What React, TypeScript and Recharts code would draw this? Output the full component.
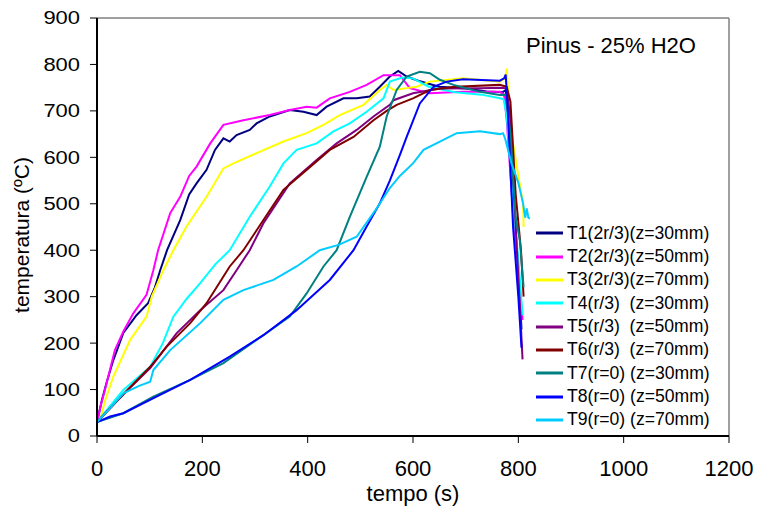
import { Label, Line, LineChart, ReferenceLine, XAxis, YAxis } from "recharts";

// time (s), temperature (ºC)
const t1 = [[0,30],[10,80],[18,114],[30,160],[50,222],[75,260],[97,286],[110,320],[120,357],[133,400],[158,465],[175,520],[189,544],[208,573],[224,616],[240,641],[252,634],[265,648],[290,659],[303,673],[328,688],[366,702],[392,698],[417,691],[436,709],[468,727],[493,727],[518,731],[537,752],[556,774],[572,786],[588,774],[610,765],[650,752],[700,748],[740,742],[770,740],[776,745],[780,700],[790,520],[800,360],[806,230]];
const t2 = [[0,30],[8,70],[15,99],[34,185],[50,225],[69,264],[94,304],[107,357],[116,400],[139,480],[158,515],[175,560],[189,580],[215,630],[240,670],[278,680],[328,691],[366,702],[398,709],[417,707],[442,727],[480,741],[512,756],[544,777],[575,777],[594,749],[632,738],[695,741],[765,741],[773,735],[778,680],[790,480],[800,360],[808,250]];
const t3 = [[0,30],[6,34],[15,75],[31,128],[63,207],[94,257],[104,300],[126,357],[145,400],[170,451],[208,515],[240,576],[259,587],[303,609],[354,634],[398,652],[430,670],[461,691],[506,713],[537,745],[550,756],[563,745],[588,749],[607,752],[632,763],[695,770],[765,763],[775,770],[778,791],[782,720],[790,630],[800,560],[809,500],[810,450]];
const t4 = [[0,30],[25,65],[50,99],[101,149],[125,200],[145,257],[170,295],[196,329],[225,370],[252,400],[290,472],[328,537],[354,587],[379,616],[417,630],[449,656],[480,673],[512,698],[544,727],[556,763],[580,772],[600,770],[630,752],[680,740],[730,735],[765,727],[772,725],[778,690],[790,500],[800,380],[808,260]];
const t5 = [[0,30],[50,90],[101,146],[151,221],[196,271],[240,314],[265,357],[290,400],[316,458],[366,544],[417,594],[455,630],[493,659],[525,688],[556,713],[563,723],[600,738],[650,748],[727,749],[770,750],[778,748],[785,680],[795,450],[802,300],[808,165]];
const t6 = [[0,30],[50,90],[101,149],[132,192],[177,243],[208,286],[252,365],[278,400],[316,465],[354,530],[398,573],[442,616],[487,644],[525,680],[550,700],[569,713],[600,727],[632,745],[680,752],[765,756],[778,752],[785,720],[795,520],[805,400],[810,300]];
const t7 = [[0,30],[50,49],[107,85],[177,121],[240,157],[303,207],[366,257],[398,307],[430,365],[455,400],[480,472],[512,558],[537,623],[550,688],[569,745],[588,774],[613,784],[632,781],[651,767],[677,756],[727,741],[765,734],[776,735],[785,650],[795,470],[803,420],[810,320]];
const t8 = [[0,30],[25,42],[50,49],[113,85],[177,121],[252,171],[316,217],[379,271],[442,336],[487,400],[512,451],[537,501],[556,550],[575,605],[588,644],[613,716],[639,752],[664,763],[695,768],[765,765],[773,770],[776,778],[780,700],[790,450],[800,300],[806,190]];
const t9 = [[0,30],[25,60],[50,92],[80,108],[101,117],[107,142],[139,185],[196,243],[240,293],[278,314],[335,336],[379,365],[423,400],[460,412],[493,429],[531,490],[556,534],[575,560],[600,587],[620,616],[651,634],[683,652],[727,656],[765,650],[771,652],[775,640],[787,587],[800,545],[809,501],[813,470],[816,490],[819,470],[822,468]];

const names = ["T1(2r/3)(z=30mm)", "T2(2r/3)(z=50mm)", "T3(2r/3)(z=70mm)", "T4(r/3)  (z=30mm)", "T5(r/3)  (z=50mm)", "T6(r/3)  (z=70mm)", "T7(r=0) (z=30mm)", "T8(r=0) (z=50mm)", "T9(r=0) (z=70mm)"];
const colors = ["#000080", "#FF00FF", "#FFFF00", "#00FFFF", "#800080", "#800000", "#008080", "#0000FF", "#00CCFF"];
const xTicks = [0, 200, 400, 600, 800, 1000, 1200];
const yTicks = [0, 100, 200, 300, 400, 500, 600, 700, 800, 900];

const series = [t1, t2, t3, t4, t5, t6, t7, t8, t9].map((pts, i) => ({
  name: names[i],
  color: colors[i],
  data: pts.map(([t, v]) => ({ t, v })),
}));

const font = "'Liberation Sans', Arial, sans-serif";

const XTick = (props: any) => (
  <text x={props.x} y={476} textAnchor="middle" fontSize={22} fontFamily={font} fill="#000">
    {props.payload.value}
  </text>
);

const YTick = (props: any) => (
  <g transform={`translate(80,${props.y}) scale(1.22,1)`}>
    <text x={0} y={0} dy="0.36em" textAnchor="end" fontSize={18} fontFamily={font} fill="#000">
      {props.payload.value}
    </text>
  </g>
);

export default function App() {
  return (
    <div style={{ position: "relative", width: 758, height: 511, background: "#fff" }}>
      <style>{`body{margin:0}`}</style>
      <LineChart width={758} height={511} margin={{ top: 18, right: 29, bottom: 0, left: 0 }}>
        <XAxis
          type="number"
          dataKey="t"
          domain={[0, 1200]}
          ticks={xTicks}
          height={75}
          tickSize={7}
          tick={XTick}
          axisLine={{ stroke: "#000", strokeWidth: 2 }}
          tickLine={{ stroke: "#000", strokeWidth: 1 }}
        >
          <Label content={() => <text x={413} y={501} textAnchor="middle" fontSize={22} fontFamily={font} fill="#000">tempo (s)</text>} />
        </XAxis>
        <YAxis
          type="number"
          domain={[0, 900]}
          ticks={yTicks}
          width={97}
          tickSize={7}
          tick={YTick}
          axisLine={{ stroke: "#000", strokeWidth: 2 }}
          tickLine={{ stroke: "#000", strokeWidth: 1 }}
        >
          <Label content={() => <text transform="translate(29,235) rotate(-90)" textAnchor="middle" fontSize={21} fontFamily={font} fill="#000">temperatura (ºC)</text>} />
        </YAxis>
        <ReferenceLine y={900} stroke="#808080" strokeWidth={1.5} />
        <ReferenceLine x={1200} stroke="#808080" strokeWidth={1.5} />
        {series.map((s) => (
          <Line
            key={s.name}
            data={s.data}
            dataKey="v"
            name={s.name}
            stroke={s.color}
            strokeWidth={2}
            dot={false}
            isAnimationActive={false}
            type="linear"
          />
        ))}
      </LineChart>
      <div style={{ position: "absolute", left: 526, top: 34.5, fontFamily: font, fontSize: 22, lineHeight: "22px", color: "#000", whiteSpace: "pre" }}>
        Pinus - 25% H2O
      </div>
      <div style={{ position: "absolute", left: 536, top: 221.5, fontFamily: font, fontSize: 17.6, color: "#000" }}>
        {series.map((s) => (
          <div key={s.name} style={{ height: 23.35, display: "flex", alignItems: "center", whiteSpace: "pre" }}>
            <svg width={31} height={6}>
              <line x1={0} y1={3} x2={27} y2={3} stroke={s.color} strokeWidth={3} />
            </svg>
            <span>{s.name}</span>
          </div>
        ))}
      </div>
    </div>
  );
}
